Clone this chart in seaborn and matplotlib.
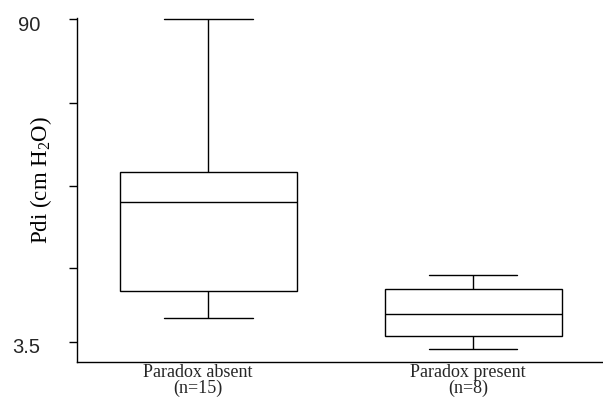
import numpy as np
import pandas as pd
import matplotlib
matplotlib.use("Agg")
import matplotlib.pyplot as plt
import matplotlib.transforms as mtransforms
import seaborn as sns

# Five-number summaries (cm H2O)
groups = ["Paradox absent\n(n=15)", "Paradox present\n(n=8)"]
absent_summary = [9.9, 17.2, 41.1, 49.0, 90.0]    # min, Q1, median, Q3, max
present_summary = [1.5, 5.0, 10.9, 17.6, 21.5]   # min, Q1, median, Q3, max
ytick_values = [3.5, 23.2, 45.4, 67.5, 90.0]
ytick_labels = ["3.5", "", "", "", "90"]
y_label = "Pdi (cm H$_2$O)"

df = pd.DataFrame({
    "group": [groups[0]] * len(absent_summary) + [groups[1]] * len(present_summary),
    "pdi": absent_summary + present_summary,
})

sns.set_theme(style="white")
plt.rcParams["mathtext.default"] = "regular"

fig = plt.figure(figsize=(6.03, 4.03), dpi=100)
ax = fig.add_axes([76.5 / 603, 1 - 361.5 / 403, 1 - 76.5 / 603, 343.5 / 403])

sns.boxplot(
    data=df, x="group", y="pdi", order=groups, ax=ax,
    whis=(0, 100), width=0.668, color="white", linecolor="black",
    linewidth=1.0, showfliers=False,
)

ax.set_xlim(-0.498, 1.49)
ax.set_ylim(-1.82, 90.4)

ax.set_yticks(ytick_values)
ax.set_yticklabels(ytick_labels, fontsize=14.5, family="Liberation Sans")
ax.tick_params(axis="y", direction="out", length=6, width=1, color="black", pad=20, left=True)
ax.tick_params(axis="x", length=0, pad=1.5)
for lab in ax.get_yticklabels():
    lab.set_transform(lab.get_transform() + mtransforms.ScaledTranslation(0, -4 / 100, fig.dpi_scale_trans))
x_shifts_px = [-11, -5]
for lab, dx in zip(ax.get_xticklabels(), x_shifts_px):
    lab.set_family("Liberation Serif")
    lab.set_fontsize(13)
    lab.set_linespacing(0.95)
    lab.set_transform(lab.get_transform() + mtransforms.ScaledTranslation(dx / 100, 0, fig.dpi_scale_trans))

ax.set_xlabel("")
ax.set_ylabel(y_label, family="Liberation Serif", fontsize=16.5, color="black")
ax.yaxis.label.set_va("center")
ax.yaxis.set_label_coords((41 - 76.5) / 527, (361.5 - 180) / 343.5)

for side in ["top", "right"]:
    ax.spines[side].set_visible(False)
for side in ["left", "bottom"]:
    ax.spines[side].set_color("black")
    ax.spines[side].set_linewidth(1.0)

fig.savefig("out.png", dpi=100)
